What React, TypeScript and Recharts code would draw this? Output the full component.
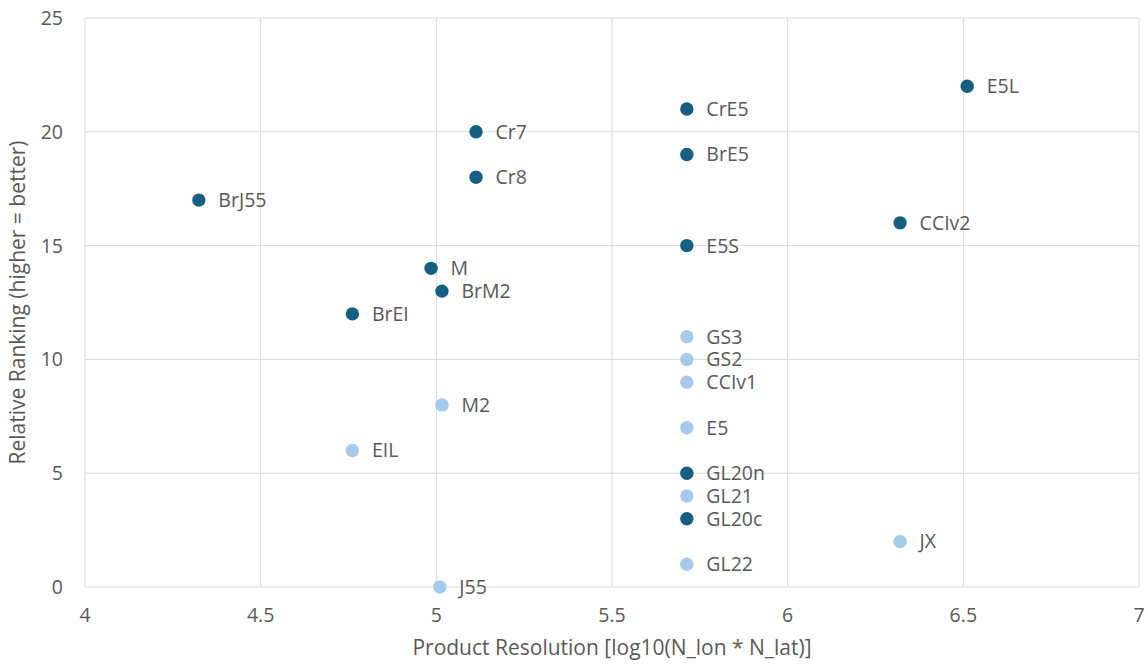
import { CartesianGrid, LabelList, Scatter, ScatterChart, XAxis, YAxis } from "recharts";

// dark markers
const darkNames = ["BrJ55", "Cr7", "Cr8", "CrE5", "BrE5", "E5L", "CCIv2", "E5S", "M", "BrM2", "BrEI", "GL20n", "GL20c"];
const darkRes = [4.324, 5.113, 5.113, 5.713, 5.713, 6.511, 6.32, 5.713, 4.985, 5.016, 4.761, 5.713, 5.713];
const darkRank = [17, 20, 18, 21, 19, 22, 16, 15, 14, 13, 12, 5, 3];

// light markers
const lightNames = ["GS3", "GS2", "CCIv1", "M2", "E5", "EIL", "GL21", "JX", "GL22", "J55"];
const lightRes = [5.713, 5.713, 5.713, 5.016, 5.713, 4.761, 5.713, 6.32, 5.713, 5.01];
const lightRank = [11, 10, 9, 8, 7, 6, 4, 2, 1, 0];

const xTicks = [4, 4.5, 5, 5.5, 6, 6.5, 7];
const yTicks = [0, 5, 10, 15, 20, 25];

const toRows = (names: string[], xs: number[], ys: number[]) =>
  names.map((name, i) => ({ name, x: xs[i], y: ys[i] }));

const darkData = toRows(darkNames, darkRes, darkRank);
const lightData = toRows(lightNames, lightRes, lightRank);

const textColor = "#595959";
const font = "'Open Sans', sans-serif";
const labelStyle = { fill: textColor, fontSize: 19.5, fontFamily: font };
const titleStyle = { fill: textColor, fontSize: 21, fontFamily: font };

const dot = (color: string) => (props: any) => (
  <circle cx={props.cx} cy={props.cy} r={6.7} fill={color} />
);

export default function App() {
  return (
    <div style={{ position: "absolute", left: 0, top: 0, width: 1147, height: 664, background: "#fff", fontFamily: font }}>
      <ScatterChart width={1147} height={664} margin={{ top: 18, right: 8, bottom: 0, left: 0 }}>
        <CartesianGrid stroke="#d9d9d9" strokeWidth={1} />
        <XAxis
          type="number"
          dataKey="x"
          domain={[4, 7]}
          ticks={xTicks}
          height={77}
          axisLine={false}
          tickLine={false}
          tickSize={0}
          tickMargin={21}
          tick={labelStyle}
          label={{
            value: "Product Resolution [log10(N_lon * N_lat)]",
            position: "insideBottom",
            offset: 9,
            style: titleStyle
          }}
        />
        <YAxis
          type="number"
          dataKey="y"
          domain={[0, 25]}
          ticks={yTicks}
          width={85}
          axisLine={false}
          tickLine={false}
          tickSize={0}
          tickMargin={22}
          tick={labelStyle}
          label={{
            value: "Relative Ranking (higher = better)",
            angle: -90,
            position: "insideLeft",
            offset: 18,
            style: { ...titleStyle, textAnchor: "middle" }
          }}
        />
        <Scatter data={darkData} fill="#156082" shape={dot("#156082")} isAnimationActive={false}>
          <LabelList dataKey="name" position="right" offset={15} style={labelStyle} />
        </Scatter>
        <Scatter data={lightData} fill="#a6caec" shape={dot("#a6caec")} isAnimationActive={false}>
          <LabelList dataKey="name" position="right" offset={15} style={labelStyle} />
        </Scatter>
      </ScatterChart>
    </div>
  );
}
